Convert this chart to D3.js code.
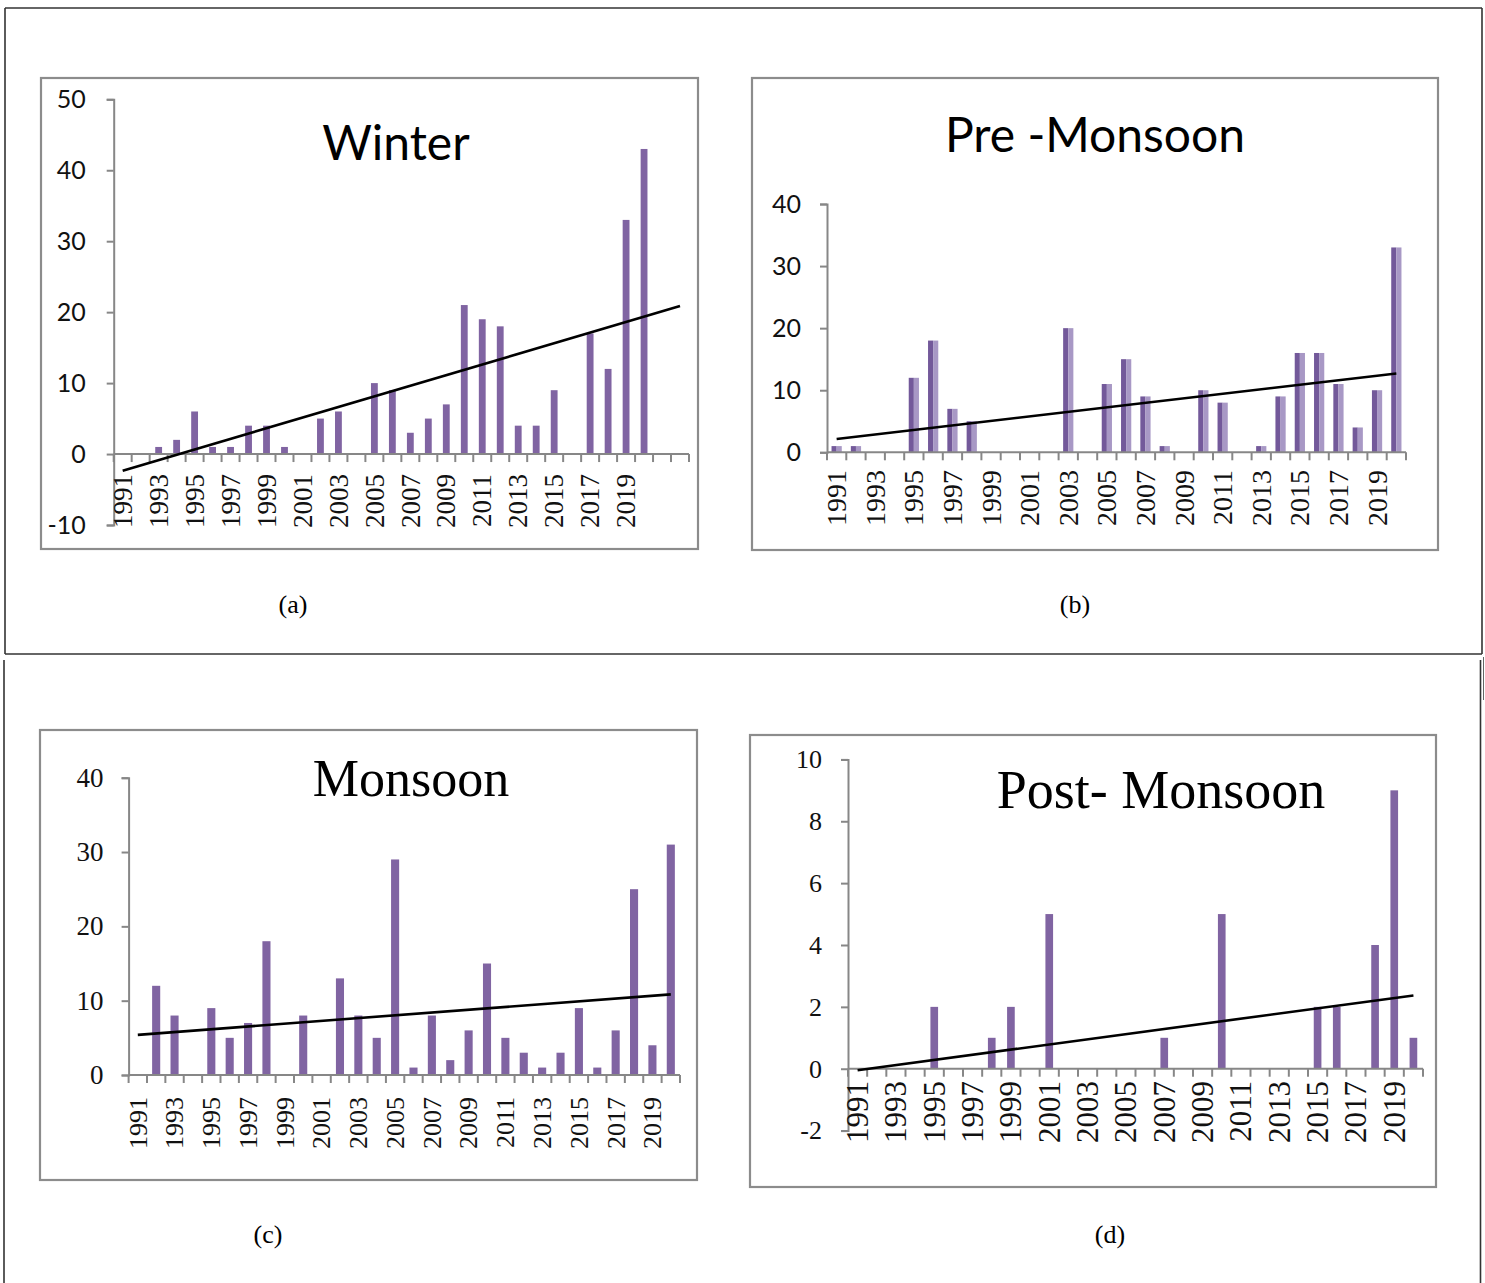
<!DOCTYPE html>
<html>
<head>
<meta charset="utf-8">
<script src="https://cdn.jsdelivr.net/npm/d3@7"></script>
<style>
  html, body { margin: 0; padding: 0; background: #fff; }
  svg { display: block; }
</style>
</head>
<body>
<svg id="fig" width="1485" height="1283"></svg>
<script>
// Seasonal counts 1991-2020
const years = ['1991','1992','1993','1994','1995','1996','1997','1998','1999','2000',
  '2001','2002','2003','2004','2005','2006','2007','2008','2009','2010',
  '2011','2012','2013','2014','2015','2016','2017','2018','2019','2020'];

const winter      = [0,0,1,2,6,1,1,4,4,1, 0,5,6,0,10,9,3,5,7,21, 19,18,4,4,9,0,17,12,33,43];
const preMonsoon  = [1,1,0,0,12,18,7,5,0,0, 0,0,20,0,11,15,9,1,0,10, 8,0,1,9,16,16,11,4,10,33];
const monsoon     = [0,12,8,0,9,5,7,18,0,8, 0,13,8,5,29,1,8,2,6,15, 5,3,1,3,9,1,6,25,4,31];
const postMonsoon = [0,0,0,0,2,0,0,1,2,0, 5,0,0,0,0,0,1,0,0,5, 0,0,0,0,2,2,0,4,9,1];

// Linear trend line ends: value at first slot, value at last slot
const winterTrend  = [-2.35, 20.86];
const preTrend     = [2.15, 12.7];
const monsoonTrend = [5.4, 10.85];
const postTrend    = [-0.05, 2.37];

const winterTicks  = [-10, 0, 10, 20, 30, 40, 50];
const preTicks     = [0, 10, 20, 30, 40];
const monsoonTicks = [0, 10, 20, 30, 40];
const postTicks    = [-2, 0, 2, 4, 6, 8, 10];

const titles   = ['Winter', 'Pre -Monsoon', 'Monsoon', 'Post- Monsoon'];
const captions = ['(a)', '(b)', '(c)', '(d)'];

const SANS = 'Lato, "Open Sans", sans-serif';
const SERIF = '"Liberation Serif", "Times New Roman", serif';
const PURPLE = '#8064a2';
const AXIS = '#878787';

const svg = d3.select('#fig');

// page frame lines
const frameLines = [
  [5, 8, 1482, 8], [5, 8, 5, 654], [1482, 8, 1482, 654], [5, 654, 1482, 654],
  [4, 660, 4, 1283], [1480.5, 660, 1480.5, 1283]
];
svg.selectAll('line.page').data(frameLines).enter().append('line')
  .attr('class', 'page')
  .attr('x1', d => d[0]).attr('y1', d => d[1])
  .attr('x2', d => d[2]).attr('y2', d => d[3])
  .attr('stroke', '#333').attr('stroke-width', 1.6);
svg.append('line').attr('x1', 1483.5).attr('y1', 657).attr('x2', 1483.5).attr('y2', 700)
  .attr('stroke', '#666').attr('stroke-width', 1);

const panels = [
  { values: winter, trend: winterTrend, ticks: winterTicks, title: titles[0], caption: captions[0],
    frame: [41, 78, 657, 471], left: 113.7, right: 689, top: 99.3, bottom: 525, domain: [-10, 50],
    extra: 2, barRatio: 0.38, twoTone: false, labelTop: 474, yearSize: 27,
    tickFont: SANS, tickSize: 25, tickGap: 28,
    titleFont: SANS, titleSize: 48, titleX: 396, titleY: 160, capX: 293, capY: 613 },
  { values: preMonsoon, trend: preTrend, ticks: preTicks, title: titles[1], caption: captions[1],
    frame: [752, 78, 686, 472], left: 827, right: 1406, top: 204, bottom: 452.3, domain: [0, 40],
    extra: 0, barRatio: 0.53, twoTone: true, labelTop: 470, yearSize: 28,
    tickFont: SANS, tickSize: 25, tickGap: 26,
    titleFont: SANS, titleSize: 48, titleX: 1095, titleY: 152, capX: 1075, capY: 613 },
  { values: monsoon, trend: monsoonTrend, ticks: monsoonTicks, title: titles[2], caption: captions[2],
    frame: [40, 730, 657, 450], left: 128.6, right: 680, top: 777.7, bottom: 1075, domain: [0, 40],
    extra: 0, barRatio: 0.44, twoTone: false, labelTop: 1097, yearSize: 26,
    tickFont: SERIF, tickSize: 27, tickGap: 25,
    titleFont: SERIF, titleSize: 52, titleX: 411, titleY: 796, capX: 268, capY: 1243 },
  { values: postMonsoon, trend: postTrend, ticks: postTicks, title: titles[3], caption: captions[3],
    frame: [750, 735, 686, 452], left: 848, right: 1423, top: 759.4, bottom: 1130.6, domain: [-2, 10],
    extra: 0, barRatio: 0.4, twoTone: false, labelTop: 1081, yearSize: 31,
    tickFont: SERIF, tickSize: 26, tickGap: 26,
    titleFont: SERIF, titleSize: 54, titleX: 1161, titleY: 808, capX: 1110, capY: 1243 }
];

panels.forEach(drawPanel);

function drawPanel(p) {
  const g = svg.append('g');

  // chart frame
  g.append('rect')
    .attr('x', p.frame[0]).attr('y', p.frame[1])
    .attr('width', p.frame[2]).attr('height', p.frame[3])
    .attr('fill', '#fff').attr('stroke', '#8c8c8c').attr('stroke-width', 2.2);

  // slots: the data years plus any empty trailing slots
  const slots = years.map((yr, i) => ({ key: yr, label: i % 2 === 0 ? yr : '', value: p.values[i] }));
  for (let k = 0; k < p.extra; k++) slots.push({ key: 'extra' + k, label: '', value: null });

  const x = d3.scaleBand().domain(slots.map(d => d.key)).range([p.left, p.right]).padding(0);
  const y = d3.scaleLinear().domain(p.domain).range([p.bottom, p.top]);
  const bw = x.bandwidth();
  const y0 = y(0);

  // bars
  const barW = bw * p.barRatio;
  const bars = slots.filter(d => d.value);
  if (p.twoTone) {
    g.selectAll('rect.barL').data(bars).enter().append('rect')
      .attr('x', d => x(d.key) + (bw - barW) / 2)
      .attr('y', d => y(d.value))
      .attr('width', barW / 2)
      .attr('height', d => y0 - y(d.value))
      .attr('fill', '#73599a');
    g.selectAll('rect.barR').data(bars).enter().append('rect')
      .attr('x', d => x(d.key) + bw / 2)
      .attr('y', d => y(d.value))
      .attr('width', barW / 2)
      .attr('height', d => y0 - y(d.value))
      .attr('fill', '#a898c5');
  } else {
    g.selectAll('rect.bar').data(bars).enter().append('rect')
      .attr('x', d => x(d.key) + (bw - barW) / 2)
      .attr('y', d => y(d.value))
      .attr('width', barW)
      .attr('height', d => y0 - y(d.value))
      .attr('fill', PURPLE);
  }

  // y axis (plain hyphen for negatives, as in the source)
  const yAxis = d3.axisLeft(y).tickValues(p.ticks).tickSize(7).tickPadding(p.tickGap - 7)
    .tickFormat(d => String(d));
  const ya = g.append('g').attr('transform', `translate(${p.left},0)`).call(yAxis);
  ya.select('.domain').attr('stroke', AXIS).attr('stroke-width', 2);
  ya.selectAll('.tick line').attr('stroke', AXIS).attr('stroke-width', 2);
  ya.selectAll('.tick text')
    .attr('fill', '#111')
    .style('font-family', p.tickFont)
    .style('font-size', p.tickSize + 'px');

  // x axis at zero
  g.append('line')
    .attr('x1', p.left).attr('x2', p.right)
    .attr('y1', y0).attr('y2', y0)
    .attr('stroke', AXIS).attr('stroke-width', 2);
  const bounds = slots.map(d => x(d.key)).concat([p.right]);
  g.selectAll('line.xtick').data(bounds).enter().append('line')
    .attr('x1', d => d).attr('x2', d => d)
    .attr('y1', y0).attr('y2', y0 + 8)
    .attr('stroke', AXIS).attr('stroke-width', 2);

  // year labels, rotated
  g.selectAll('text.year').data(slots.filter(d => d.label)).enter().append('text')
    .attr('transform', d => `translate(${x(d.key) + bw / 2},${p.labelTop}) rotate(-90)`)
    .attr('text-anchor', 'end')
    .attr('dy', '0.34em')
    .attr('fill', '#111')
    .style('font-family', SERIF)
    .style('font-size', p.yearSize + 'px')
    .text(d => d.label);

  // trend line
  const first = slots[0].key;
  const last = slots[slots.length - 1].key;
  g.append('line')
    .attr('x1', x(first) + bw / 2).attr('y1', y(p.trend[0]))
    .attr('x2', x(last) + bw / 2).attr('y2', y(p.trend[1]))
    .attr('stroke', '#000').attr('stroke-width', 2.6);

  // title
  g.append('text')
    .attr('x', p.titleX).attr('y', p.titleY)
    .attr('text-anchor', 'middle')
    .attr('fill', '#000')
    .style('font-family', p.titleFont)
    .style('font-size', p.titleSize + 'px')
    .text(p.title);

  // caption under the frame
  svg.append('text')
    .attr('x', p.capX).attr('y', p.capY)
    .attr('text-anchor', 'middle')
    .attr('fill', '#000')
    .style('font-family', SERIF)
    .style('font-size', '26px')
    .text(p.caption);
}
</script>
</body>
</html>
